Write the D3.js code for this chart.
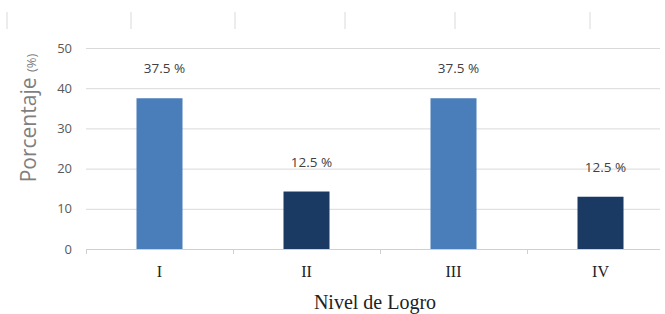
<!DOCTYPE html>
<html>
<head>
<meta charset="utf-8">
<script src="https://cdn.jsdelivr.net/npm/d3@7"></script>
<style>
  body { margin: 0; background: #fff; }
  svg { display: block; }
</style>
</head>
<body>
<div id="chart"></div>
<script>
// datos
var niveles = ["I", "II", "III", "IV"];
var porcentajes = [37.5, 14.3, 37.5, 13.0];
var etiquetas = ["37.5 %", "12.5 %", "37.5 %", "12.5 %"];
var colores = ["#4a7ebb", "#1b3a63", "#4a7ebb", "#1b3a63"];
var yTicks = [0, 10, 20, 30, 40, 50];
var marcasArriba = [7, 131, 235, 345, 455, 590];

var W = 665, H = 314;
var svg = d3.select('#chart').append('svg').attr('width', W).attr('height', H);

var x = d3.scaleBand().domain(niveles).range([86, 674]).padding(0);
var y = d3.scaleLinear().domain([0, 50]).range([249, 48]);

// marcas tenues arriba (resto del grafico anterior)
svg.append('g').selectAll('line').data(marcasArriba).enter().append('line')
    .attr('x1', function(d){ return d; }).attr('x2', function(d){ return d; })
    .attr('y1', 12).attr('y2', 29)
    .style('stroke', '#dadada').style('stroke-width', 1);

// lineas de cuadricula + etiquetas eje y
var yAxis = d3.axisLeft(y).tickValues(yTicks).tickSize(-(660 - 86)).tickPadding(14);
var gy = svg.append('g').attr('transform', 'translate(86,0)').call(yAxis);
gy.select('.domain').remove();
gy.selectAll('.tick line').style('stroke', '#d9d9d9');
gy.selectAll('.tick text').style('fill', '#595959')
    .style('font-family', 'Open Sans, Liberation Sans, sans-serif').style('font-size', '13px');

// eje x
var xAxis = d3.axisBottom(x).tickSize(0).tickPadding(17);
var gx = svg.append('g').attr('transform', 'translate(0,' + y(0) + ')').call(xAxis);
gx.select('.domain').remove();
gx.append('line').attr('x1', 86).attr('x2', 660).attr('y1', 0.5).attr('y2', 0.5)
    .style('stroke', '#d0d0d0');
gx.selectAll('.tick text').style('fill', '#222')
    .style('font-family', 'Liberation Serif, Times New Roman, serif').style('font-size', '16px');
// separadores entre categorias
gx.selectAll('.sep').data(niveles).enter().append('line').attr('class', 'sep')
    .attr('x1', function(d){ return Math.round(x(d)) + 0.5; })
    .attr('x2', function(d){ return Math.round(x(d)) + 0.5; })
    .attr('y1', 0).attr('y2', 5)
    .style('stroke', '#d0d0d0');

// barras
var bw = x.bandwidth() * 0.313;
svg.append('g').selectAll('rect').data(porcentajes).enter().append('rect')
    .attr('x', function(d, i){ return x(niveles[i]) + x.bandwidth() / 2 - bw / 2; })
    .attr('y', function(d){ return y(d); })
    .attr('width', bw)
    .attr('height', function(d){ return y(0) - y(d); })
    .style('fill', function(d, i){ return colores[i]; });

// etiquetas de datos
svg.append('g').selectAll('text').data(porcentajes).enter().append('text')
    .attr('x', function(d, i){ return x(niveles[i]) + x.bandwidth() / 2 + 5; })
    .attr('y', function(d){ return y(d) - 25; })
    .attr('text-anchor', 'middle')
    .style('fill', '#404040')
    .style('font-family', 'Open Sans, Liberation Sans, sans-serif').style('font-size', '13.5px')
    .text(function(d, i){ return etiquetas[i]; });

// titulo eje x
svg.append('text').attr('x', 375).attr('y', 309).attr('text-anchor', 'middle')
    .style('fill', '#222')
    .style('font-family', 'Liberation Serif, Times New Roman, serif').style('font-size', '20px')
    .text('Nivel de Logro');

// titulo eje y
var ty = svg.append('text').attr('transform', 'translate(36,118) rotate(-90)')
    .attr('text-anchor', 'middle').style('fill', '#7f7f7f')
    .style('font-family', 'Open Sans, Liberation Sans, sans-serif');
ty.append('tspan').style('font-size', '21px').text('Porcentaje ');
ty.append('tspan').style('font-size', '13px').text('(%)');
</script>
</body>
</html>
